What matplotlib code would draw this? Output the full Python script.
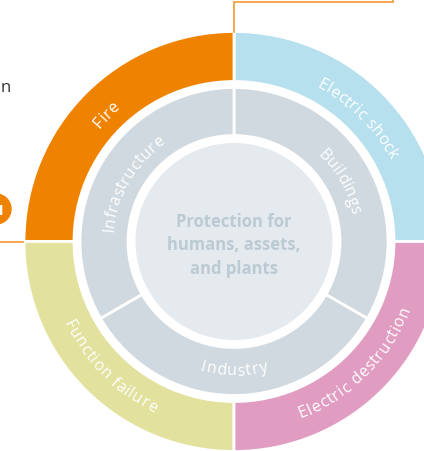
import numpy as np
import matplotlib
matplotlib.use('Agg')
import matplotlib.pyplot as plt
from matplotlib.font_manager import FontProperties, findfont
from matplotlib.ft2font import FT2Font

# outer ring: four hazards, counter-clockwise from 3 o'clock
outer_labels = ['Electric shock', 'Fire', 'Function failure', 'Electric destruction']
outer_sizes = [1, 1, 1, 1]
outer_colors = ['#b6e0ed', '#ef8300', '#e2e29e', '#e19cc2']

# middle ring: three areas, starting at -30 deg
middle_labels = ['Buildings', 'Infrastructure', 'Industry']
middle_sizes = [1, 1, 1]
middle_color = '#d0d9df'

centre_text = 'Protection for\nhumans, assets,\nand plants'

W, H = 424, 452
cx, cy = 234, 452 - 242.5
FONT = 'Open Sans'


def advances(text, prop):
    # glyph advances in pixels (dpi 100, 1 data unit = 1 px)
    font = FT2Font(findfont(prop))
    font.set_size(prop.get_size_in_points(), 100)
    return [font.load_char(ord(c)).linearHoriAdvance / 65536 for c in text]


def curved(ax, text, r, theta_c, size, color, track=0.6):
    prop = FontProperties(family=FONT, size=size)
    adv = [a + track for a in advances(text, prop)]
    total = sum(adv) - track
    top = np.sin(np.radians(theta_c)) >= 0
    pos = 0
    for ch, a in zip(text, adv):
        mid = pos + (a - track) / 2 - total / 2
        pos += a
        off = np.degrees(mid / r)
        if top:
            th = theta_c - off
            rot = th - 90
        else:
            th = theta_c + off
            rot = th + 90
        x = cx + r * np.cos(np.radians(th))
        y = cy + r * np.sin(np.radians(th))
        ax.text(x, y, ch, fontproperties=prop, color=color, rotation=rot,
                rotation_mode='anchor', ha='center', va='center_baseline')


fig = plt.figure(figsize=(W / 100, H / 100), dpi=100)
ax = fig.add_axes([0, 0, 1, 1])

wo, _ = ax.pie(outer_sizes, colors=outer_colors, startangle=0, counterclock=True,
               center=(cx, cy), radius=210, frame=True,
               wedgeprops=dict(width=50, edgecolor='white', linewidth=2))
wm, _ = ax.pie(middle_sizes, colors=[middle_color] * 3, startangle=-30, counterclock=True,
               center=(cx, cy), radius=154, frame=True,
               wedgeprops=dict(width=48, edgecolor='white', linewidth=2))
ax.pie([1], colors=['#e5eaee'], center=(cx, cy), radius=98.5, frame=True,
       wedgeprops=dict(edgecolor='none'))

ax.set_xlim(0, W)
ax.set_ylim(0, H)
ax.set_aspect('auto')
ax.axis('off')

for wdg, lab in zip(wo, outer_labels):
    curved(ax, lab, 182, (wdg.theta1 + wdg.theta2) / 2, 11.5, 'white')
for wdg, lab in zip(wm, middle_labels):
    curved(ax, lab, 127, (wdg.theta1 + wdg.theta2) / 2, 11.5, 'white')

ax.text(cx, cy - 3, centre_text, ha='center', va='center', fontsize=12,
        family=FONT, weight='bold', color='#bccad3', linespacing=1.4)

# callout lines
oc = '#f29a30'
ax.plot([cx, cx, 393, 393], [H - 33, H - 3, H - 3, H], color=oc, lw=1.2,
        solid_joinstyle='miter', clip_on=False)
ax.plot([0, 23], [cy, cy], color=oc, lw=1.2)
ax.add_patch(plt.Circle((-4, H - 210), 15, color='#ef8300'))
ax.text(-1, H - 211, '1', ha='center', va='center', fontsize=11, color='white',
        weight='bold', family=FONT)
ax.text(11, H - 92, 'n', ha='right', va='baseline', fontsize=12, color='#333333',
        family=FONT)

fig.savefig('out.png', dpi=100)
